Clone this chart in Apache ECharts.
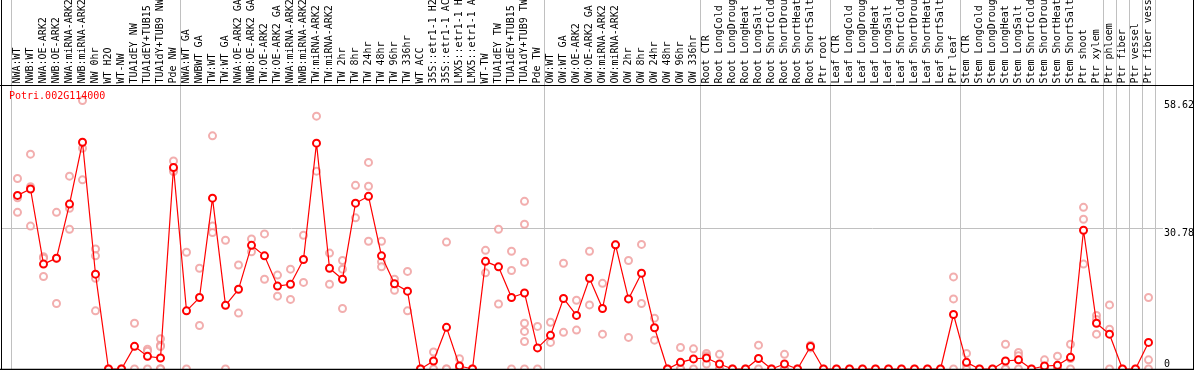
<!DOCTYPE html>
<html>
<head>
<meta charset="utf-8">
<script src="https://cdn.jsdelivr.net/npm/echarts@6/dist/echarts.min.js"></script>
<style>
  html, body { margin: 0; padding: 0; background: #fff; }
  #chart { width: 1194px; height: 370px; }
</style>
</head>
<body>
<div id="chart"></div>
<script>
const geneId = "Potri.002G114000";

const categories = [
  "NWA:WT","NWB:WT","NWA:OE-ARK2","NWB:OE-ARK2","NWA:miRNA-ARK2","NWB:miRNA-ARK2","NW 0hr","WT H2O","WT-NW",
  "TUA1dEY NW","TUA1dEY+TUB15 NW","TUA1dY+TUB9 NW","Pde NW",
  "NWA:WT GA","NWBWT GA","TW:WT","TW:WT GA","NWA:OE-ARK2 GA","NWB:OE-ARK2 GA","TW:OE-ARK2","TW:OE-ARK2 GA",
  "NWA:miRNA-ARK2 GA","NWB:miRNA-ARK2 GA","TW:miRNA-ARK2","TW:miRNA-ARK2 GA",
  "TW 2hr","TW 8hr","TW 24hr","TW 48hr","TW 96hr","TW 336hr","WT ACC",
  "35S::etr1-1 H2O","35S::etr1-1 ACC","LMX5::etr1-1 H2O","LMX5::etr1-1 ACC",
  "WT-TW","TUA1dEY TW","TUA1dEY+TUB15 TW","TUA1dY+TUB9 TW","Pde TW",
  "OW:WT","OW:WT GA","OW:OE-ARK2","OW:OE-ARK2 GA","OW:miRNA-ARK2","OW:miRNA-ARK2 GA",
  "OW 2hr","OW 8hr","OW 24hr","OW 48hr","OW 96hr","OW 336hr",
  "Root CTR","Root LongCold","Root LongDrought","Root LongHeat","Root LongSalt",
  "Root ShortCold","Root ShortDrought","Root ShortHeat","Root ShortSalt","Ptr root",
  "Leaf CTR","Leaf LongCold","Leaf LongDrought","Leaf LongHeat","Leaf LongSalt",
  "Leaf ShortCold","Leaf ShortDrought","Leaf ShortHeat","Leaf ShortSalt","Ptr leaf",
  "Stem CTR","Stem LongCold","Stem LongDrought","Stem LongHeat","Stem LongSalt",
  "Stem ShortCold","Stem ShortDrought","Stem ShortHeat","Stem ShortSalt",
  "Ptr shoot","Ptr xylem","Ptr phloem","Ptr fiber","Ptr vessel","Ptr fiber vessel"
];

// index of the first category of each group (plus the end)
const groupStarts = [0, 13, 41, 53, 63, 73, 84, 85, 86, 87, 88];

const means = [
  37.9, 39.3, 22.9, 24.2, 36.0, 49.5, 20.7, 0, 0, 4.95, 2.76, 2.4, 44.0,
  12.7, 15.6, 37.3, 13.9, 17.4, 27.0, 24.7, 18.1, 18.5, 23.9, 49.3, 22.0,
  19.6, 36.2, 37.7, 24.7, 18.6, 17.0, 0, 1.75, 9.1, 0.65, 0, 23.5, 22.3, 15.6, 16.6, 4.6,
  7.35, 15.4, 11.7, 19.8, 13.2, 27.1, 15.3, 20.9, 9.0, 0, 1.45, 2.2,
  2.4, 1.1, 0, 0, 2.3, 0, 1.1, 0, 4.9, 0,
  0, 0, 0, 0, 0, 0, 0, 0, 0, 11.9,
  1.45, 0, 0, 1.75, 2.0, 0, 0.65, 0.8, 2.55,
  30.3, 10.0, 7.6, 0, 0, 5.8
];

const replicates = [
  [41.6, 37.4, 34.2], [46.9, 39.8, 31.2], [24.5, 24.2, 20.2], [34.2, 24.1, 14.3],
  [42.1, 35.1, 30.5], [58.62, 48.2, 41.3], [26.2, 24.7, 19.8, 12.7], [0, 0], [0, 0],
  [10.0, 0], [4.3, 3.9, 0], [6.6, 5.2, 4.9, 0, 0, 0], [45.4, 43.5, 43.1],
  [25.5, 0], [22.0, 9.5], [50.9, 31.2, 29.8], [28.1, 0], [22.7, 12.2], [28.4, 25.6],
  [29.5, 19.6], [20.5, 15.9], [21.8, 15.2], [29.2, 18.9], [55.2, 43.2], [25.3, 18.5],
  [23.7, 21.8, 13.2], [40.1, 33.0], [45.1, 39.9, 27.9], [27.9, 23.4, 22.3], [19.6, 17.2],
  [21.3, 12.7], [0, 0], [3.7, 0], [27.7, 0, 0], [2.25, 0, 0], [0, 0],
  [25.9, 21.0], [30.5, 14.2], [25.7, 21.5, 0], [36.6, 31.6, 23.3, 10.0, 8.2, 6.0, 0], [9.3, 0],
  [10.2, 5.8], [23.1, 8.0], [15.0, 8.5], [25.7, 14.0], [18.7, 7.6], [27.1],
  [23.7, 6.9], [27.2, 14.3], [11.1, 6.3], [0, 0], [4.7, 0, 0], [4.4, 0],
  [3.4, 2.9, 1.1], [3.2, 0, 0], [0, 0], [0, 0], [5.2, 0], [0, 0], [3.2, 0, 0], [0, 0], [5.2, 4.6], [0],
  [0], [0], [0], [0], [0], [0], [0], [0], [0], [20.1, 15.3, 0],
  [3.4, 0.9, 0], [0], [0], [5.4, 0, 0], [3.6, 2.9, 0], [0], [2.0, 0, 0], [2.8, 0, 0], [5.4, 2.3, 0],
  [35.3, 32.7, 22.9], [11.7, 10.8, 7.6], [14.0, 8.7, 0], [0], [0], [15.6, 2.0, 0]
];

const yTicks = [0, 30.78, 58.62];

const FONT = "DejaVu Sans Mono";
const repPoints = [];
replicates.forEach((arr, i) => arr.forEach(v => repPoints.push([i, v])));

const chart = echarts.init(document.getElementById('chart'), null, { renderer: 'canvas' });
const yMin = yTicks[0], yMax = yTicks[yTicks.length - 1], yInt = yTicks[1] - yTicks[0];

chart.setOption({
  animation: false,
  backgroundColor: '#ffffff',
  title: {
    text: geneId, left: 4, top: 86,
    textStyle: { color: '#ff0000', fontFamily: FONT, fontSize: 10, fontWeight: 'normal' }
  },
  grid: [
    { left: 11, width: 1144, top: 100.5, bottom: 1, containLabel: false, outerBoundsMode: 'none' },
    { left: 11, width: 1144, top: 0, bottom: 0, containLabel: false, outerBoundsMode: 'none' },
    { left: 1, right: 31, top: 100.5, bottom: 1, containLabel: false, outerBoundsMode: 'none' }
  ],
  xAxis: [
    {
      type: 'category', gridIndex: 0, position: 'top', data: categories, boundaryGap: true,
      axisLine: { show: false }, axisTick: { show: false }, splitLine: { show: false },
      axisLabel: { interval: 0, rotate: 90, margin: 17, color: '#000', fontFamily: FONT, fontSize: 10, hideOverlap: false }
    },
    {
      type: 'category', gridIndex: 1, data: categories, boundaryGap: true,
      axisLine: { show: false }, axisTick: { show: false }, axisLabel: { show: false },
      splitLine: {
        show: true,
        interval: (idx) => groupStarts.indexOf(idx) >= 0,
        lineStyle: { color: '#c0c0c0', width: 1 }
      }
    },
    { type: 'value', gridIndex: 2, show: false }
  ],
  yAxis: [
    { type: 'value', gridIndex: 0, min: yMin, max: yMax, show: false },
    { type: 'value', gridIndex: 1, show: false },
    {
      type: 'value', gridIndex: 2, position: 'right', min: yMin, max: yMax, interval: yInt,
      axisLine: { show: false }, axisTick: { show: false },
      axisLabel: {
        margin: 1, color: '#000', fontFamily: FONT, fontSize: 10,
        verticalAlign: 'top', verticalAlignMinLabel: 'bottom', verticalAlignMaxLabel: 'top',
        formatter: (v) => (v === 0 ? '0' : v.toFixed(2))
      },
      splitLine: { show: true, showMinLine: false, showMaxLine: false, lineStyle: { color: '#c0c0c0', width: 1 } }
    }
  ],
  series: [
    {
      name: 'replicates', type: 'scatter', xAxisIndex: 0, yAxisIndex: 0,
      data: repPoints, symbol: 'emptyCircle', symbolSize: 7, z: 2,
      itemStyle: { color: '#ef9a9a', borderColor: '#ef9a9a', borderWidth: 1.2 }
    },
    {
      name: 'mean', type: 'line', xAxisIndex: 0, yAxisIndex: 0,
      data: means, symbol: 'emptyCircle', symbolSize: 7, z: 3, clip: false,
      lineStyle: { color: '#ff0000', width: 1.2 },
      itemStyle: { color: '#ff0000', borderColor: '#ff0000', borderWidth: 1.6 }
    }
  ],
  graphic: [
    { type: 'line', z: 100, shape: { x1: 1.5, y1: 0, x2: 1.5, y2: 370 }, style: { stroke: '#000', lineWidth: 1 } },
    { type: 'line', z: 100, shape: { x1: 1193.5, y1: 0, x2: 1193.5, y2: 370 }, style: { stroke: '#000', lineWidth: 1 } },
    { type: 'line', z: 100, shape: { x1: 0, y1: 85.5, x2: 1194, y2: 85.5 }, style: { stroke: '#000', lineWidth: 1 } },
    { type: 'line', z: 100, shape: { x1: 0, y1: 369.5, x2: 1194, y2: 369.5 }, style: { stroke: '#000', lineWidth: 1.5 } }
  ]
});
</script>
</body>
</html>
